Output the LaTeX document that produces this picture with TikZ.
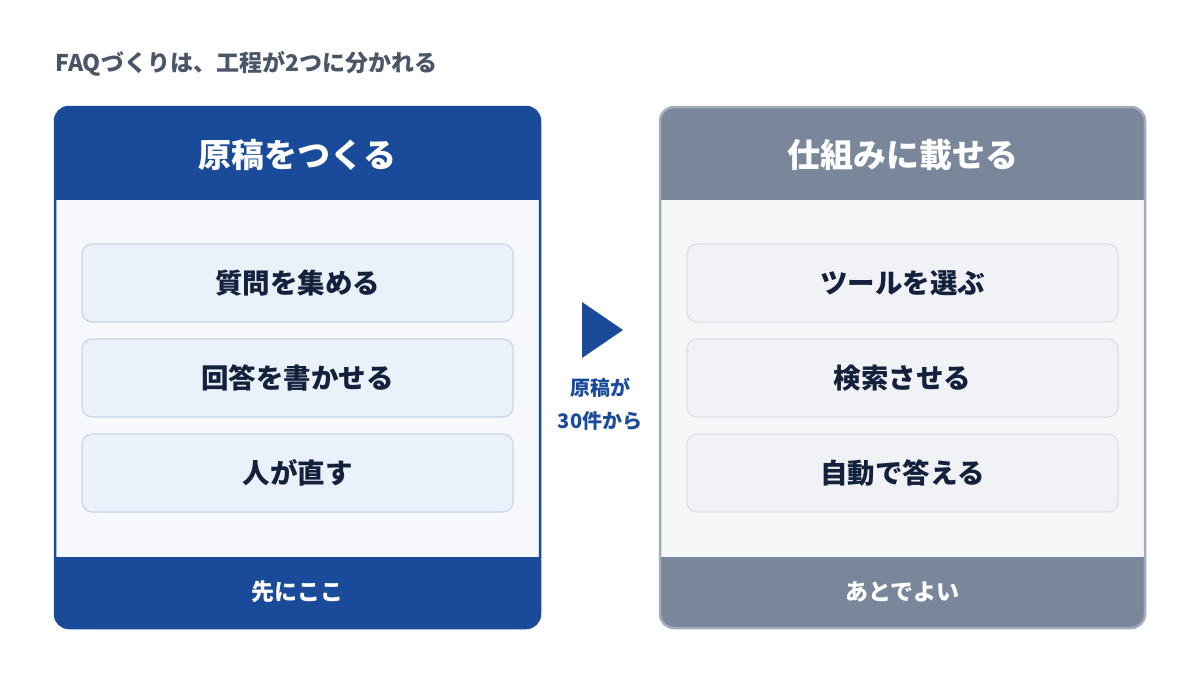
\documentclass[tikz,border=0pt]{standalone}
\usepackage{fontspec}
\setmainfont{Noto Sans CJK JP}
\usepackage{tikz}

\definecolor{mainblue}{HTML}{1A4A9A}
\definecolor{slate}{HTML}{7A8699}
\definecolor{slateline}{HTML}{A3ACB9}
\definecolor{bodyblue}{HTML}{F6F8FC}
\definecolor{bodygray}{HTML}{F5F6F8}
\definecolor{stepblue}{HTML}{EBF1FA}
\definecolor{stepblueline}{HTML}{C8D6EA}
\definecolor{stepgray}{HTML}{F0F2F5}
\definecolor{stepgrayline}{HTML}{DCE0E5}
\definecolor{inktext}{HTML}{14213D}
\definecolor{titlegray}{HTML}{4A5568}

\begin{document}
\begin{tikzpicture}[x=1pt, y=-1pt,
    hdr/.style={font=\fontsize{33}{33}\selectfont\bfseries, text=white, inner sep=0pt},
    ftr/.style={font=\fontsize{23}{23}\selectfont\bfseries, text=white, inner sep=0pt},
    stepbox/.style={rounded corners=10pt, line width=1.2pt, minimum width=431pt,
                    minimum height=78pt, inner sep=0pt,
                    font=\fontsize{27.5}{27.5}\selectfont\bfseries, text=inktext},
    bluestep/.style={stepbox, fill=stepblue, draw=stepblueline},
    graystep/.style={stepbox, fill=stepgray, draw=stepgrayline}]

% full canvas
\useasboundingbox (0,0) rectangle (1200,675);

% ---- title ----
\node[anchor=west, inner sep=0pt, text=titlegray,
      font=\fontsize{23}{23}\selectfont\bfseries] (title) at (55,64)
      {FAQづくりは、工程が2つに分かれる};

% ---- left panel: write drafts ----
\begin{scope}
  \clip[rounded corners=14pt] (55,107) rectangle (540,628);
  \fill[bodyblue] (55,107) rectangle (540,628);
  \fill[mainblue] (55,107) rectangle (540,200);   % header band
  \fill[mainblue] (55,557) rectangle (540,628);   % footer band
\end{scope}
\draw[mainblue, line width=2.5pt, rounded corners=14pt] (55,107) rectangle (540,628);
\node[hdr] (draftHead) at (297.5,155) {原稿をつくる};
\node[bluestep] (collect) at (297.5,283) {質問を集める};
\node[bluestep] (answer)  at (297.5,378) {回答を書かせる};
\node[bluestep] (review)  at (297.5,473) {人が直す};
\node[ftr] (draftFoot) at (297.5,592) {先にここ};

% ---- middle: arrow head + note ----
\fill[mainblue] (582,302) -- (623,330) -- (582,358) -- cycle;
\node[inner sep=0pt, text=mainblue, align=center,
      font=\fontsize{20}{33}\selectfont\bfseries] (note) at (600,404)
      {原稿が\\30件から};

% ---- right panel: put on the system ----
\begin{scope}
  \clip[rounded corners=14pt] (660,107) rectangle (1145,628);
  \fill[bodygray] (660,107) rectangle (1145,628);
  \fill[slate] (660,107) rectangle (1145,200);    % header band
  \fill[slate] (660,557) rectangle (1145,628);    % footer band
\end{scope}
\draw[slateline, line width=2.5pt, rounded corners=14pt] (660,107) rectangle (1145,628);
\node[hdr] (sysHead) at (902.5,155) {仕組みに載せる};
\node[graystep] (tool)   at (902.5,283) {ツールを選ぶ};
\node[graystep] (search) at (902.5,378) {検索させる};
\node[graystep] (reply)  at (902.5,473) {自動で答える};
\node[ftr] (sysFoot) at (902.5,592) {あとでよい};

\end{tikzpicture}
\end{document}
